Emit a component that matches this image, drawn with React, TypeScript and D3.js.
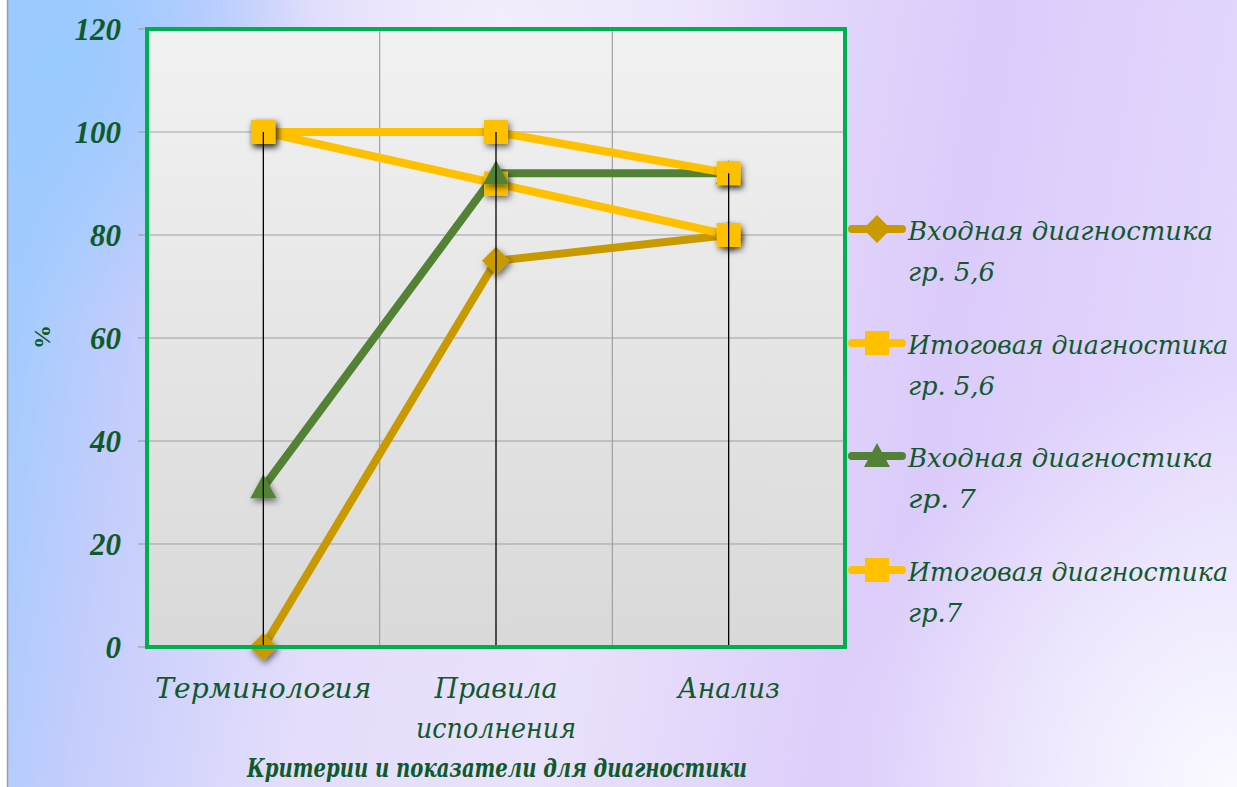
import React from "react";
import * as d3 from "d3";

const categories = ["Терминология", "Правила исполнения", "Анализ"];
const categoryLines = [["Терминология"], ["Правила", "исполнения"], ["Анализ"]];
const yTicks = [0, 20, 40, 60, 80, 100, 120];

const seriesNames = [
  ["Входная диагностика", "гр. 5,6"],
  ["Итоговая диагностика", "гр. 5,6"],
  ["Входная диагностика", "гр. 7"],
  ["Итоговая диагностика", "гр.7"],
];
const entry56 = [0, 75, 80];
const final56 = [100, 90, 80];
const entry7 = [31, 92, 92];
const final7 = [100, 100, 92];
const seriesValues = [entry56, final56, entry7, final7];
const seriesColors = ["#C89A00", "#FFC000", "#538135", "#FFC000"];
const seriesMarkers = ["diamond", "square", "triangle", "square"];

const W = 1237;
const H = 787;
const L = 147, R = 845, T = 29, B = 647;
const textColor = "#0F5A2A";
const font = "'DejaVu Serif', 'Liberation Serif', serif";
const numFont = "'Liberation Serif', 'DejaVu Serif', serif";

function Marker({ type, x, y, color, shadow }: any) {
  const f = shadow ? "url(#shadow)" : undefined;
  if (type === "square") {
    return <rect x={x - 12} y={y - 12} width={24} height={24} fill={color} filter={f} />;
  }
  if (type === "diamond") {
    const s = 14;
    return <path d={`M${x},${y - s}L${x + s},${y}L${x},${y + s}L${x - s},${y}Z`} fill={color} filter={f} />;
  }
  const s = 13;
  return <path d={`M${x},${y - s}L${x + s},${y + s - 2}L${x - s},${y + s - 2}Z`} fill={color} filter={f} />;
}

export default function App() {
  const x = d3.scaleBand<string>().domain(categories).range([L, R]);
  const y = d3.scaleLinear().domain([0, 120]).range([B, T]);
  const cx = (c: string) => (x(c) as number) + x.bandwidth() / 2;
  const line = d3
    .line<number>()
    .x((_, i) => cx(categories[i]))
    .y((v) => y(v));

  const maxes = categories.map((_, i) => d3.max(seriesValues, (s) => s[i]) as number);
  const legendY = [229, 343, 456, 570];
  const legendTextW = [305, 320, 305, 320];
  const legendSubW = [87, 87, 68, 54];
  const catW = [[216], [123, 160], [102]];

  return (
    <svg width={W} height={H} style={{ position: "absolute", left: 0, top: 0 }}>
      <defs>
        <linearGradient id="bg" x1="0" y1="0.45" x2="1" y2="0.55">
          <stop offset="0" stopColor="#A3CBFE" />
          <stop offset="0.1" stopColor="#C4CDFC" />
          <stop offset="0.28" stopColor="#E4DDFB" />
          <stop offset="0.48" stopColor="#EAE2FB" />
          <stop offset="0.75" stopColor="#DBCBFA" />
          <stop offset="1" stopColor="#E4D8FD" />
        </linearGradient>
        <radialGradient id="glow" cx="1237" cy="787" r="420" gradientUnits="userSpaceOnUse">
          <stop offset="0" stopColor="#FAFAFF" stopOpacity="1" />
          <stop offset="1" stopColor="#FAFAFF" stopOpacity="0" />
        </radialGradient>
        <radialGradient id="glow2" cx="500" cy="20" r="300" gradientUnits="userSpaceOnUse">
          <stop offset="0" stopColor="#F6F0FC" stopOpacity="0.8" />
          <stop offset="1" stopColor="#F6F0FC" stopOpacity="0" />
        </radialGradient>
        <radialGradient id="glow3" cx="60" cy="60" r="260" gradientUnits="userSpaceOnUse">
          <stop offset="0" stopColor="#98CAFF" stopOpacity="0.9" />
          <stop offset="1" stopColor="#98CAFF" stopOpacity="0" />
        </radialGradient>
        <linearGradient id="plotbg" x1="0" y1="0" x2="0" y2="1">
          <stop offset="0" stopColor="#F2F2F2" />
          <stop offset="1" stopColor="#D9D9D9" />
        </linearGradient>
        <filter id="shadow" x="-50%" y="-50%" width="200%" height="200%">
          <feDropShadow dx="2" dy="3" stdDeviation="3" floodColor="#000" floodOpacity="0.55" />
        </filter>
      </defs>
      <rect x={0} y={0} width={W} height={H} fill="#fff" />
      <rect x={8} y={0} width={W - 8} height={H} fill="url(#bg)" />
      <rect x={8} y={0} width={W - 8} height={H} fill="url(#glow)" />
      <rect x={8} y={0} width={W - 8} height={H} fill="url(#glow2)" />
      <rect x={8} y={0} width={W - 8} height={H} fill="url(#glow3)" />
      <line x1={7.5} x2={7.5} y1={0} y2={H} stroke="#A0A0A0" strokeWidth={1.5} />

      {/* plot area */}
      <rect x={L} y={T} width={R - L} height={B - T} fill="url(#plotbg)" />
      {yTicks.filter((t) => t > 0 && t < 120).map((t) => (
        <line key={t} x1={L} x2={R} y1={y(t)} y2={y(t)} stroke="#A0A0A0" strokeWidth={1.2} />
      ))}
      {categories.slice(1).map((c) => (
        <line key={c} x1={x(c)} x2={x(c)} y1={T} y2={B} stroke="#A0A0A0" strokeWidth={1.2} />
      ))}
      {yTicks.map((t) => (
        <line key={"tk" + t} x1={L - 9} x2={L} y1={y(t)} y2={y(t)} stroke="#A0A0A0" strokeWidth={1.2} />
      ))}

      {/* series */}
      {seriesValues.map((s, si) => (
        <path key={"l" + si} d={line(s) as string} fill="none" stroke={seriesColors[si]} strokeWidth={8} strokeLinejoin="round" />
      ))}
      {seriesValues.map((s, si) =>
        s.map((v, i) => (
          <Marker key={"m" + si + "-" + i} type={seriesMarkers[si]} x={cx(categories[i])} y={y(v)} color={seriesColors[si]} shadow />
        ))
      )}
      {/* drop lines */}
      {categories.map((c, i) => (
        <line key={"d" + c} x1={cx(c)} x2={cx(c)} y1={y(maxes[i])} y2={B} stroke="#000" strokeWidth={1.3} />
      ))}

      <rect x={L} y={T} width={R - L} height={B - T} fill="none" stroke="#00B050" strokeWidth={4} />

      {/* y labels */}
      {yTicks.map((t) => (
        <text key={"yl" + t} x={121} y={y(t)} dy="0.35em" textAnchor="end" fontFamily={numFont} fontStyle="italic" fontWeight="bold" fontSize={31} fill={textColor}>
          {t}
        </text>
      ))}
      <text transform={`translate(50,337) rotate(-90)`} textAnchor="middle" fontFamily={numFont} fontWeight="bold" fontSize={24} fill={textColor}>
        %
      </text>

      {/* x labels */}
      {categories.map((c, i) =>
        categoryLines[i].map((ln, j) => (
          <text key={c + j} x={cx(c)} y={698 + j * 40} textAnchor="middle" fontFamily={font} fontStyle="italic" fontSize={28} fill={textColor} textLength={catW[i][j]} lengthAdjust="spacingAndGlyphs">
            {ln}
          </text>
        ))
      )}
      <text x={497} y={777} textAnchor="middle" fontFamily={font} fontStyle="italic" fontWeight="bold" fontSize={26} fill={textColor} textLength={500} lengthAdjust="spacingAndGlyphs">
        Критерии и показатели для диагностики
      </text>

      {/* legend */}
      {seriesNames.map((nm, si) => (
        <g key={"lg" + si}>
          <line x1={852} x2={902} y1={legendY[si]} y2={legendY[si]} stroke={seriesColors[si]} strokeWidth={8} strokeLinecap="round" />
          <Marker type={seriesMarkers[si]} x={877} y={legendY[si]} color={seriesColors[si]} />
          <text x={908} y={legendY[si] + 11} fontFamily={font} fontStyle="italic" fontSize={26} fill={textColor} textLength={legendTextW[si]} lengthAdjust="spacingAndGlyphs">
            {nm[0]}
          </text>
          <text x={908} y={legendY[si] + 52} fontFamily={font} fontStyle="italic" fontSize={26} fill={textColor} textLength={legendSubW[si]} lengthAdjust="spacingAndGlyphs">
            {nm[1]}
          </text>
        </g>
      ))}
    </svg>
  );
}
